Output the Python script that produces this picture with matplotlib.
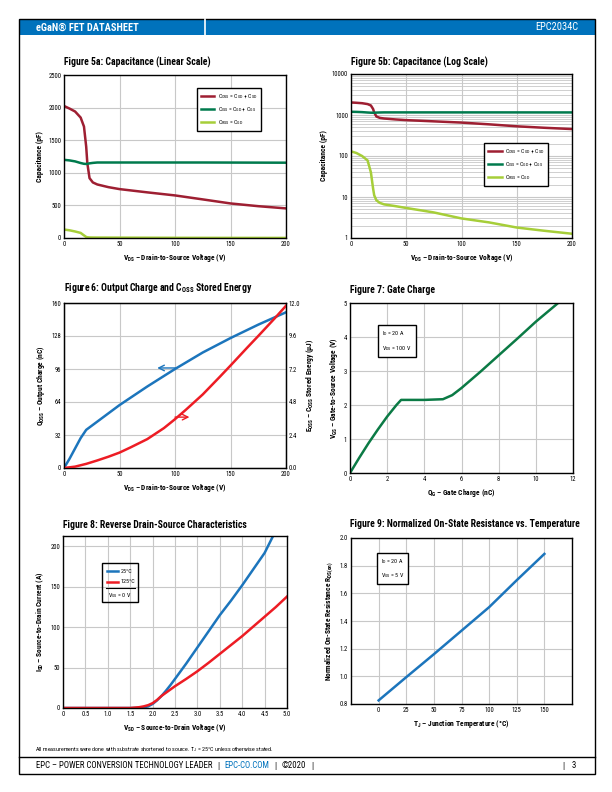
import numpy as np
import matplotlib
matplotlib.use('Agg')
import matplotlib.pyplot as plt
from matplotlib import font_manager
from matplotlib.patches import Rectangle

names = {f.name for f in font_manager.fontManager.ttflist}
fam = 'DejaVu Sans'
for cand in ['Liberation Sans Narrow', 'Roboto Condensed', 'Open Sans Condensed', 'Noto Sans Condensed']:
    if cand in names:
        fam = cand
        break
plt.rcParams['font.family'] = [fam, 'DejaVu Sans']
if fam == 'DejaVu Sans':
    plt.rcParams['font.stretch'] = 'condensed'
plt.rcParams['mathtext.fontset'] = 'custom'
plt.rcParams['mathtext.rm'] = fam
plt.rcParams['mathtext.it'] = fam + ':italic'
plt.rcParams['mathtext.bf'] = fam + ':bold'
plt.rcParams['mathtext.default'] = 'regular'

# --- data ---
# fig 5a/5b capacitance (pF) vs Vds
vds_c = [0, 5, 10, 15, 18, 20, 21, 23, 26, 30, 40, 50, 75, 100, 125, 150, 175, 200]
coss = [2025, 1985, 1940, 1847, 1709, 1400, 1150, 918, 852, 821, 780, 750, 700, 653, 592, 530, 488, 454]
ciss = [1199, 1190, 1175, 1150, 1138, 1136, 1137, 1145, 1152, 1158, 1158, 1158, 1158, 1158, 1158, 1157, 1156, 1155]
crss = [130, 118, 100, 78, 40, 16, 11, 8.3, 7.2, 6.6, 6.0, 5.4, 4.2, 3.0, 2.4, 1.8, 1.5, 1.27]

# fig 6
vds_q = [0, 5, 10, 15, 20, 25, 30, 40, 50, 75, 100, 125, 150, 175, 200]
qoss = [0, 9, 19, 29, 37, 41, 45, 53, 61, 79, 96, 112, 126, 139, 151]
vds_e = [0, 10, 20, 30, 40, 50, 60, 75, 90, 100, 110, 125, 140, 150, 165, 175, 190, 200]
eoss = [0, 0.1, 0.3, 0.55, 0.82, 1.12, 1.5, 2.1, 2.9, 3.55, 4.25, 5.35, 6.6, 7.45, 8.75, 9.6, 10.9, 11.8]

# fig 7
qg = [0, 0.5, 1, 1.5, 2, 2.5, 2.75, 3, 4, 5, 5.5, 6, 7, 8, 9, 10, 11.2]
vgs = [0, 0.45, 0.88, 1.28, 1.66, 2.0, 2.15, 2.15, 2.15, 2.17, 2.29, 2.5, 2.97, 3.46, 3.95, 4.45, 5.0]

# fig 8
vsd25 = [0, 1.0, 1.5, 1.7, 1.8, 1.9, 2.0, 2.1, 2.2, 2.3, 2.4, 2.5, 2.75, 3.0, 3.25, 3.5, 3.75, 4.0, 4.25, 4.5, 4.68]
isd25 = [0, 0, 0, 0.2, 0.8, 2, 5, 9.5, 15, 21.5, 28.5, 36, 55, 75, 95, 115, 133, 152, 172, 192, 212]
vsd125 = [0, 1.0, 1.5, 1.7, 1.8, 1.9, 2.0, 2.1, 2.2, 2.3, 2.5, 2.75, 3.0, 3.25, 3.5, 3.75, 4.0, 4.25, 4.5, 4.75, 5.0]
isd125 = [0, 0, 0, 1, 2, 3.5, 6, 10, 15, 19, 27, 36, 45.5, 56, 67, 78, 89, 101, 113, 125, 138]

# fig 9
tj = [0, 25, 50, 75, 100, 125, 150]
rds = [0.826, 0.994, 1.16, 1.33, 1.50, 1.695, 1.885]

c_red = '#9E1F32'
c_grn = '#007A4D'
c_lgr = '#A6CE39'
c_blu = '#1C75BC'
c_rd2 = '#ED1C24'
c_g7 = '#0B7A45'
c_hdr = '#0072BC'

W, H = 612, 792
fig = plt.figure(figsize=(6.12, 7.92), dpi=100)

page = fig.add_axes([0, 0, 1, 1])
page.set_xlim(0, W)
page.set_ylim(H, 0)
page.axis('off')
page.add_patch(Rectangle((19, 19), 576, 16, color=c_hdr, lw=0))
page.plot([205, 205], [19, 35], color='white', lw=1.2)
page.add_patch(Rectangle((19, 18.5), 576, 755.5, fill=False, ec='black', lw=1))
page.plot([19, 595], [757, 757], color='black', lw=1)
page.text(36, 27.5, 'eGaN® FET DATASHEET', color='white', fontsize=7.5, fontweight='bold', va='center')
page.text(578, 27.5, 'EPC2034C', color='white', fontsize=7.5, va='center', ha='right')
page.text(35, 750, 'All measurements were done with substrate shortened to source. T$_J$ = 25°C unless otherwise stated.',
          fontsize=4.3, va='center')

fy = 766
fig.canvas.draw()
rend = fig.canvas.get_renderer()
x = 36
for piece, col, gap in [('EPC – POWER CONVERSION TECHNOLOGY LEADER', 'black', 5), ('|', 'black', 5),
                        ('EPC-CO.COM', c_hdr, 5), ('|', 'black', 5), ('©2020', 'black', 5), ('|', 'black', 0)]:
    t = page.text(x, fy, piece, fontsize=6.3, va='center', color=col)
    bb = t.get_window_extent(rend)
    x += bb.width * W / fig.bbox.width + gap
page.text(563, fy, '|', fontsize=6.3, va='center', ha='center')
page.text(572, fy, '3', fontsize=6.3, va='center')

titles = [(64, 62, 'Figure 5a: Capacitance (Linear Scale)'),
          (351, 62, 'Figure 5b: Capacitance (Log Scale)'),
          (64, 288, 'Figure 6: Output Charge and C$_{OSS}$ Stored Energy'),
          (350, 290, 'Figure 7: Gate Charge'),
          (63, 525, 'Figure 8: Reverse Drain-Source Characteristics'),
          (350, 524, 'Figure 9: Normalized On-State Resistance vs. Temperature')]
for x, y, t in titles:
    page.text(x, y, t, fontsize=7.0, fontweight='bold', va='center')


def box(l, t, r, b):
    return [l / W, 1 - b / H, (r - l) / W, (b - t) / H]


def style(ax):
    ax.grid(True, color='#C8C8C8', lw=0.8)
    ax.set_axisbelow(True)
    ax.tick_params(length=0, labelsize=4.8, pad=2)
    for s in ax.spines.values():
        s.set_linewidth(1.0)


lab = dict(fontsize=5.4, fontweight='bold')
leg_kw = dict(loc='upper left', fontsize=4.2, frameon=True, fancybox=False, edgecolor='black',
              framealpha=1, handlelength=2.3, handletextpad=0.6, borderpad=0.7, labelspacing=0.75,
              borderaxespad=0)
cap_labels = ['C$_{OSS}$ = C$_{GD}$ + C$_{SD}$', 'C$_{ISS}$ = C$_{GD}$ + C$_{GS}$', 'C$_{RSS}$ = C$_{GD}$']
box_kw = dict(fontsize=4.3, va='top', linespacing=1.9,
              bbox=dict(boxstyle='square,pad=0.7', fc='white', ec='black', lw=1))

# Figure 5a
ax = fig.add_axes(box(64, 75, 286, 238))
style(ax)
ax.plot(vds_c, coss, color=c_red, lw=1.8, label=cap_labels[0])
ax.plot(vds_c, ciss, color=c_grn, lw=1.8, label=cap_labels[1])
ax.plot(vds_c, crss, color=c_lgr, lw=1.8, label=cap_labels[2])
ax.set_xlim(0, 200)
ax.set_ylim(0, 2500)
ax.set_xticks([0, 50, 100, 150, 200])
ax.set_yticks([0, 500, 1000, 1500, 2000, 2500])
ax.set_xlabel('V$_{DS}$ – Drain-to-Source Voltage (V)', labelpad=3, **lab)
ax.set_ylabel('Capacitance (pF)', labelpad=3, **lab)
lg = ax.legend(bbox_to_anchor=(0.599, 0.92), **leg_kw)
lg.get_frame().set_linewidth(1)

# Figure 5b
ax = fig.add_axes(box(351, 74, 572, 238))
style(ax)
ax.plot(vds_c, coss, color=c_red, lw=1.8, label=cap_labels[0])
ax.plot(vds_c, ciss, color=c_grn, lw=1.8, label=cap_labels[1])
ax.plot(vds_c, crss, color=c_lgr, lw=1.8, label=cap_labels[2])
ax.set_yscale('log')
ax.set_xlim(0, 200)
ax.set_ylim(1, 10000)
ax.set_xticks([0, 50, 100, 150, 200])
ax.set_yticks([1, 10, 100, 1000, 10000])
ax.set_yticklabels(['1', '10', '100', '1000', '10000'])
ax.grid(True, which='minor', axis='y', color='#C8C8C8', lw=0.6)
ax.tick_params(which='minor', length=0)
ax.set_xlabel('V$_{DS}$ – Drain-to-Source Voltage (V)', labelpad=3, **lab)
ax.set_ylabel('Capacitance (pF)', labelpad=3, **lab)
lg = ax.legend(bbox_to_anchor=(0.602, 0.579), **leg_kw)
lg.get_frame().set_linewidth(1)

# Figure 6
ax = fig.add_axes(box(64, 303, 286, 468))
style(ax)
ax.plot(vds_q, qoss, color=c_blu, lw=1.8)
ax.set_xlim(0, 200)
ax.set_ylim(0, 160)
ax.set_xticks([0, 50, 100, 150, 200])
ax.set_yticks([0, 32, 64, 96, 128, 160])
ax.set_xlabel('V$_{DS}$ – Drain-to-Source Voltage (V)', labelpad=3, **lab)
ax.set_ylabel('Q$_{OSS}$ – Output Charge (nC)', labelpad=3, **lab)
ax.annotate('', xy=(84, 97), xytext=(101, 97),
            arrowprops=dict(arrowstyle='->', color=c_blu, lw=1, shrinkA=0, shrinkB=0))
axr = ax.twinx()
axr.plot(vds_e, eoss, color=c_rd2, lw=1.8)
axr.set_ylim(0, 12)
axr.set_yticks([0, 2.4, 4.8, 7.2, 9.6, 12.0])
axr.set_yticklabels(['0.0', '2.4', '4.8', '7.2', '9.6', '12.0'])
axr.tick_params(length=0, labelsize=4.8, pad=2)
axr.set_ylabel('E$_{OSS}$ – C$_{OSS}$ Stored Energy (µJ)', labelpad=3, **lab)
axr.annotate('', xy=(113, 3.7), xytext=(100, 3.7),
             arrowprops=dict(arrowstyle='->', color=c_rd2, lw=1, shrinkA=0, shrinkB=0))

# Figure 7
ax = fig.add_axes(box(350, 303, 573, 473))
style(ax)
ax.plot(qg, vgs, color=c_g7, lw=1.8)
ax.set_xlim(0, 12)
ax.set_ylim(0, 5)
ax.set_xticks(range(0, 13, 2))
ax.set_yticks(range(0, 6))
ax.set_xlabel('Q$_G$ – Gate Charge (nC)', labelpad=3, **lab)
ax.set_ylabel('V$_{GS}$ – Gate-to-Source Voltage (V)', labelpad=3, **lab)
ax.text(0.145, 0.845, 'I$_D$ = 20 A\nV$_{DS}$ = 100 V', transform=ax.transAxes, **box_kw)

# Figure 8
ax = fig.add_axes(box(63, 536, 287, 708))
style(ax)
ax.plot(vsd25, isd25, color=c_blu, lw=1.8)
ax.plot(vsd125, isd125, color=c_rd2, lw=1.8)
ax.set_xlim(0, 5)
ax.set_ylim(0, 213)
ax.set_xticks(np.arange(0, 5.01, 0.5))
ax.set_xticklabels(['0', '0.5', '1.0', '1.5', '2.0', '2.5', '3.0', '3.5', '4.0', '4.5', '5.0'])
ax.set_yticks([0, 50, 100, 150, 200])
ax.set_xlabel('V$_{SD}$ – Source-to-Drain Voltage (V)', labelpad=3, **lab)
ax.set_ylabel('I$_{SD}$ – Source-to-Drain Current (A)', labelpad=3, **lab)
ax.add_patch(Rectangle((0.174, 0.616), 0.161, 0.227, transform=ax.transAxes, fill=False, ec='black', lw=1))
ax.plot([0.195, 0.245], [0.795, 0.795], transform=ax.transAxes, color=c_blu, lw=1.8)
ax.plot([0.195, 0.245], [0.735, 0.735], transform=ax.transAxes, color=c_rd2, lw=1.8)
ax.text(0.258, 0.795, '25°C', transform=ax.transAxes, fontsize=4.3, va='center')
ax.text(0.258, 0.735, '125°C', transform=ax.transAxes, fontsize=4.3, va='center')
ax.plot([0.19, 0.32], [0.695, 0.695], transform=ax.transAxes, color='black', lw=0.8)
ax.text(0.2545, 0.655, 'V$_{GS}$ = 0 V', transform=ax.transAxes, fontsize=4.3, va='center', ha='center')

# Figure 9
ax = fig.add_axes(box(351, 538, 572, 704))
style(ax)
ax.plot(tj, rds, color=c_blu, lw=1.8)
ax.set_xlim(-25, 175)
ax.set_ylim(0.8, 2.0)
ax.set_xticks([0, 25, 50, 75, 100, 125, 150])
ax.set_yticks([0.8, 1.0, 1.2, 1.4, 1.6, 1.8, 2.0])
ax.set_yticklabels(['0.8', '1.0', '1.2', '1.4', '1.6', '1.8', '2.0'])
ax.set_xlabel('T$_J$ – Junction Temperature (°C)', labelpad=3, **lab)
ax.set_ylabel('Normalized On-State Resistance R$_{DS(on)}$', labelpad=3, **lab)
ax.text(0.135, 0.885, 'I$_D$ = 20 A\nV$_{GS}$ = 5 V', transform=ax.transAxes, **box_kw)

fig.savefig('out.png', dpi=100)
